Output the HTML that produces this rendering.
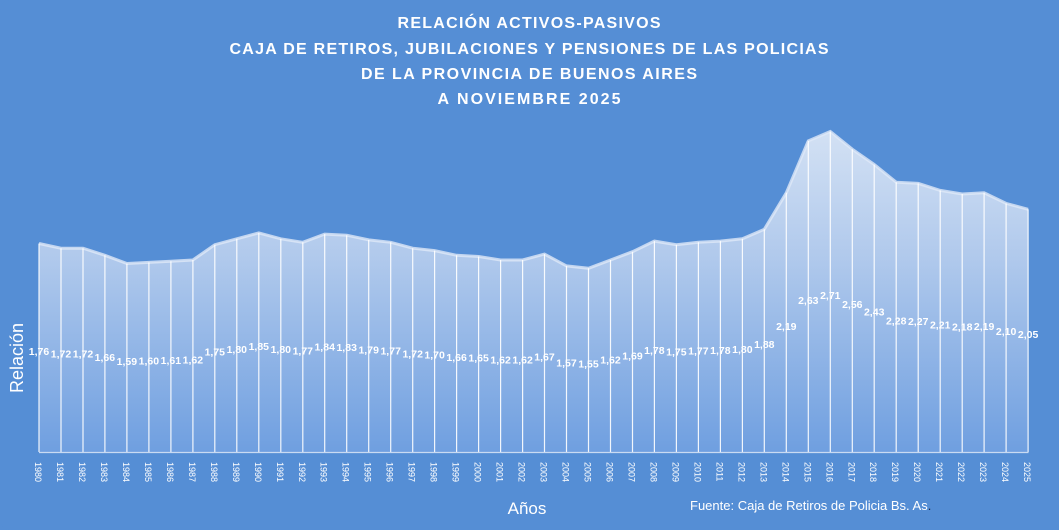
<!DOCTYPE html>
<html><head><meta charset="utf-8"><style>
html,body{margin:0;padding:0;background:#558ed5;}
svg{display:block;font-family:"Liberation Sans",sans-serif;}
</style></head><body>
<svg width="1059" height="530" viewBox="0 0 1059 530">
<defs>
<linearGradient id="ag" x1="0" y1="130" x2="0" y2="452" gradientUnits="userSpaceOnUse">
<stop offset="0" stop-color="#d3e1f4"/>
<stop offset="0.4" stop-color="#b0c9ec"/>
<stop offset="1" stop-color="#6f9fe0"/>
</linearGradient>
</defs>
<rect width="1059" height="530" rx="10" fill="#558ed5"/>
<g fill="#fff" font-weight="bold" font-size="16" text-anchor="middle">
<text x="529" y="28" textLength="263" lengthAdjust="spacing">RELACIÓN  ACTIVOS-PASIVOS</text>
<text x="529" y="54" textLength="599" lengthAdjust="spacing">CAJA DE RETIROS,  JUBILACIONES  Y PENSIONES  DE LAS POLICIAS</text>
<text x="529" y="79" textLength="336" lengthAdjust="spacing">DE LA PROVINCIA  DE BUENOS  AIRES</text>
<text x="529" y="104" textLength="183" lengthAdjust="spacing">A NOVIEMBRE  2025</text>
</g>
<polygon fill="url(#ag)" points="39,452 39,243.5 61,248.2 83,248.2 104.9,255.3 126.9,263.5 148.9,262.4 170.9,261.2 192.9,260 214.8,244.7 236.8,238.8 258.8,232.9 280.8,238.8 302.8,242.3 324.7,234.1 346.7,235.2 368.7,239.9 390.7,242.3 412.7,248.2 434.6,250.6 456.6,255.3 478.6,256.5 500.6,260 522.6,260 544.5,254.1 566.5,265.9 588.5,268.3 610.5,260 632.5,251.7 654.4,241.1 676.4,244.7 698.4,242.3 720.4,241.1 742.4,238.8 764.3,229.3 786.3,192.8 808.3,140.9 830.3,131.5 852.3,149.2 874.2,164.5 896.2,182.2 918.2,183.4 940.2,190.4 962.2,194 984.1,192.8 1006.1,203.4 1028.1,209.3 1028.1,452"/>
<polyline fill="none" stroke="#dfe9f7" stroke-opacity="0.8" stroke-width="3" points="39,243.5 61,248.2 83,248.2 104.9,255.3 126.9,263.5 148.9,262.4 170.9,261.2 192.9,260 214.8,244.7 236.8,238.8 258.8,232.9 280.8,238.8 302.8,242.3 324.7,234.1 346.7,235.2 368.7,239.9 390.7,242.3 412.7,248.2 434.6,250.6 456.6,255.3 478.6,256.5 500.6,260 522.6,260 544.5,254.1 566.5,265.9 588.5,268.3 610.5,260 632.5,251.7 654.4,241.1 676.4,244.7 698.4,242.3 720.4,241.1 742.4,238.8 764.3,229.3 786.3,192.8 808.3,140.9 830.3,131.5 852.3,149.2 874.2,164.5 896.2,182.2 918.2,183.4 940.2,190.4 962.2,194 984.1,192.8 1006.1,203.4 1028.1,209.3"/>
<g stroke="#ffffff" stroke-width="1.2" stroke-opacity="0.9">
<path d="M39,452V243.5M61,452V248.2M83,452V248.2M104.9,452V255.3M126.9,452V263.5M148.9,452V262.4M170.9,452V261.2M192.9,452V260M214.8,452V244.7M236.8,452V238.8M258.8,452V232.9M280.8,452V238.8M302.8,452V242.3M324.7,452V234.1M346.7,452V235.2M368.7,452V239.9M390.7,452V242.3M412.7,452V248.2M434.6,452V250.6M456.6,452V255.3M478.6,452V256.5M500.6,452V260M522.6,452V260M544.5,452V254.1M566.5,452V265.9M588.5,452V268.3M610.5,452V260M632.5,452V251.7M654.4,452V241.1M676.4,452V244.7M698.4,452V242.3M720.4,452V241.1M742.4,452V238.8M764.3,452V229.3M786.3,452V192.8M808.3,452V140.9M830.3,452V131.5M852.3,452V149.2M874.2,452V164.5M896.2,452V182.2M918.2,452V183.4M940.2,452V190.4M962.2,452V194M984.1,452V192.8M1006.1,452V203.4M1028.1,452V209.3"/>
</g>
<line x1="39" y1="452.5" x2="1028.5" y2="452.5" stroke="#c9daf2" stroke-width="1.2"/>
<g fill="#fff" font-size="10.5" font-weight="bold" text-anchor="middle">
<text x="39" y="355">1,76</text><text x="61" y="357.5">1,72</text><text x="83" y="357.5">1,72</text><text x="104.9" y="361">1,66</text><text x="126.9" y="365">1,59</text><text x="148.9" y="364.5">1,60</text><text x="170.9" y="364">1,61</text><text x="192.9" y="363.5">1,62</text><text x="214.8" y="355.5">1,75</text><text x="236.8" y="353">1,80</text><text x="258.8" y="350">1,85</text><text x="280.8" y="353">1,80</text><text x="302.8" y="354.5">1,77</text><text x="324.7" y="350.5">1,84</text><text x="346.7" y="351">1,83</text><text x="368.7" y="353.5">1,79</text><text x="390.7" y="354.5">1,77</text><text x="412.7" y="357.5">1,72</text><text x="434.6" y="358.5">1,70</text><text x="456.6" y="361">1,66</text><text x="478.6" y="361.5">1,65</text><text x="500.6" y="363.5">1,62</text><text x="522.6" y="363.5">1,62</text><text x="544.5" y="360.5">1,67</text><text x="566.5" y="366.5">1,57</text><text x="588.5" y="367.5">1,55</text><text x="610.5" y="363.5">1,62</text><text x="632.5" y="359.5">1,69</text><text x="654.4" y="354">1,78</text><text x="676.4" y="355.5">1,75</text><text x="698.4" y="354.5">1,77</text><text x="720.4" y="354">1,78</text><text x="742.4" y="353">1,80</text><text x="764.3" y="348">1,88</text><text x="786.3" y="330">2,19</text><text x="808.3" y="304">2,63</text><text x="830.3" y="299">2,71</text><text x="852.3" y="308">2,56</text><text x="874.2" y="315.5">2,43</text><text x="896.2" y="324.5">2,28</text><text x="918.2" y="325">2,27</text><text x="940.2" y="328.5">2,21</text><text x="962.2" y="330.5">2,18</text><text x="984.1" y="330">2,19</text><text x="1006.1" y="335">2,10</text><text x="1028.1" y="338">2,05</text>
</g>
<g fill="#fff" font-size="9">
<text transform="translate(35,462) rotate(90)">1980</text><text transform="translate(57,462) rotate(90)">1981</text><text transform="translate(79,462) rotate(90)">1982</text><text transform="translate(100.9,462) rotate(90)">1983</text><text transform="translate(122.9,462) rotate(90)">1984</text><text transform="translate(144.9,462) rotate(90)">1985</text><text transform="translate(166.9,462) rotate(90)">1986</text><text transform="translate(188.9,462) rotate(90)">1987</text><text transform="translate(210.8,462) rotate(90)">1988</text><text transform="translate(232.8,462) rotate(90)">1989</text><text transform="translate(254.8,462) rotate(90)">1990</text><text transform="translate(276.8,462) rotate(90)">1991</text><text transform="translate(298.8,462) rotate(90)">1992</text><text transform="translate(320.7,462) rotate(90)">1993</text><text transform="translate(342.7,462) rotate(90)">1994</text><text transform="translate(364.7,462) rotate(90)">1995</text><text transform="translate(386.7,462) rotate(90)">1996</text><text transform="translate(408.7,462) rotate(90)">1997</text><text transform="translate(430.6,462) rotate(90)">1998</text><text transform="translate(452.6,462) rotate(90)">1999</text><text transform="translate(474.6,462) rotate(90)">2000</text><text transform="translate(496.6,462) rotate(90)">2001</text><text transform="translate(518.6,462) rotate(90)">2002</text><text transform="translate(540.5,462) rotate(90)">2003</text><text transform="translate(562.5,462) rotate(90)">2004</text><text transform="translate(584.5,462) rotate(90)">2005</text><text transform="translate(606.5,462) rotate(90)">2006</text><text transform="translate(628.5,462) rotate(90)">2007</text><text transform="translate(650.4,462) rotate(90)">2008</text><text transform="translate(672.4,462) rotate(90)">2009</text><text transform="translate(694.4,462) rotate(90)">2010</text><text transform="translate(716.4,462) rotate(90)">2011</text><text transform="translate(738.4,462) rotate(90)">2012</text><text transform="translate(760.3,462) rotate(90)">2013</text><text transform="translate(782.3,462) rotate(90)">2014</text><text transform="translate(804.3,462) rotate(90)">2015</text><text transform="translate(826.3,462) rotate(90)">2016</text><text transform="translate(848.3,462) rotate(90)">2017</text><text transform="translate(870.2,462) rotate(90)">2018</text><text transform="translate(892.2,462) rotate(90)">2019</text><text transform="translate(914.2,462) rotate(90)">2020</text><text transform="translate(936.2,462) rotate(90)">2021</text><text transform="translate(958.2,462) rotate(90)">2022</text><text transform="translate(980.1,462) rotate(90)">2023</text><text transform="translate(1002.1,462) rotate(90)">2024</text><text transform="translate(1024.1,462) rotate(90)">2025</text>
</g>
<text x="527" y="514" fill="#fff" font-size="17" text-anchor="middle">Años</text>
<text x="690" y="510" fill="#fff" font-size="13">Fuente: Caja de Retiros de Policia Bs. As<tspan fill="#1f2d4a">.</tspan></text>
<text transform="translate(23,358) rotate(-90)" fill="#fff" font-size="18" text-anchor="middle">Relación</text>
</svg>
</body></html>
